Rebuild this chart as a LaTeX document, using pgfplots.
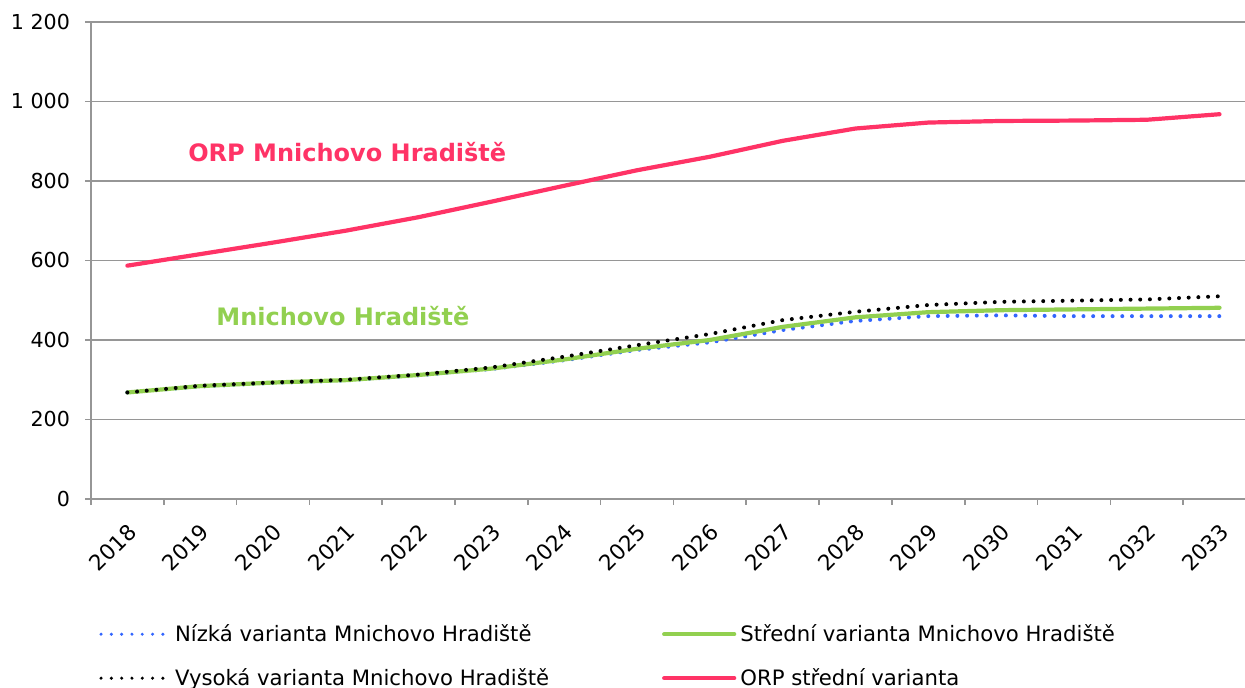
\documentclass[border=0pt]{standalone}
\usepackage{fontspec}
\setmainfont{DejaVu Sans}
\usepackage{pgfplots}
\pgfplotsset{compat=1.18}
\definecolor{cpink}{HTML}{FF3366}
\definecolor{cgreen}{HTML}{92D050}
\definecolor{cblue}{HTML}{3366FF}
\definecolor{cgrid}{HTML}{969696}
\pgfplotsset{
  dotleg/.style={legend image code/.code={\draw[##1, line width=1.7pt, dash pattern=on 0pt off 5.15pt] (0pt,0pt) -- (31.5pt,0pt); \path[draw=none] (0pt,0pt) (35pt,0pt);}},
  solidleg/.style={legend image code/.code={\draw[##1] (0pt,0pt) -- (35pt,0pt);}},
}
\begin{document}
\begin{tikzpicture}
\begin{axis}[
  name=ax,
  at={(0,0)}, anchor=south west,
  scale only axis,
  width=577pt, height=238.5pt,
  xmin=-0.5, xmax=15.35,
  ymin=0, ymax=1200,
  axis lines*=left,
  axis line style={draw=cgrid, line width=0.8pt, -},
  ytick={0,200,400,600,800,1000,1200},
  yticklabels={0,200,400,600,800,1 000,1 200},
  minor ytick={0,200,400,600,800,1000,1200},
  ymajorgrids,
  grid style={draw=cgrid, line width=0.8pt},
  xtick={0,1,...,15},
  xticklabels={2018,2019,2020,2021,2022,2023,2024,2025,2026,2027,2028,2029,2030,2031,2032,2033},
  minor xtick={-0.5,0.5,...,14.5},
  tick align=outside,
  major tick length=0pt,
  minor tick length=3pt,
  tick style={draw=cgrid, line width=0.8pt},
  xticklabel style={rotate=45, anchor=east, font=\fontsize{10.8}{12}\selectfont, yshift=-12pt, xshift=-5pt},
  yticklabel style={font=\fontsize{10.3}{12}\selectfont, xshift=-7pt},
  /pgf/number format/assume math mode=true,
  legend columns=2,
  legend cell align=left,
  legend style={at={(rel axis cs:0.0017,-0.245)}, anchor=north west, draw=none, fill=none,
    font=\fontsize{10.6}{12}\selectfont, row sep=8pt,
    /tikz/every even column/.append style={column sep=54.5pt}},
]
\addplot[cblue, line width=2pt, line cap=round, dash pattern=on 0pt off 4.85pt, dotleg]
  coordinates {(0,268)(1,283)(2,292)(3,298)(4,311)(5,327)(6,349)(7,375)(8,394)(9,425)(10,448)(11,460)(12,462)(13,460)(14,460)(15,460)};
\addlegendentry{Nízká varianta Mnichovo Hradiště}
\addplot[cgreen, line width=2.1pt, line cap=round, solidleg]
  coordinates {(0,268)(1,284)(2,293)(3,299)(4,312)(5,328)(6,351)(7,378)(8,400)(9,433)(10,457)(11,470)(12,475)(13,477)(14,479)(15,481)};
\addlegendentry{Střední varianta Mnichovo Hradiště}
\addplot[black, line width=2pt, line cap=round, dash pattern=on 0pt off 4.85pt, dotleg]
  coordinates {(0,268)(1,285)(2,293)(3,300)(4,313)(5,331)(6,358)(7,387)(8,415)(9,450)(10,471)(11,488)(12,496)(13,499)(14,502)(15,510)};
\addlegendentry{Vysoká varianta Mnichovo Hradiště}
\addplot[cpink, line width=2.1pt, line cap=round, solidleg]
  coordinates {(0,587)(1,616)(2,645)(3,675)(4,709)(5,748)(6,788)(7,827)(8,861)(9,901)(10,932)(11,947)(12,951)(13,952)(14,954)(15,968)};
\addlegendentry{ORP střední varianta}
\node[font=\bfseries\fontsize{12}{14}\selectfont, text=cpink] at (axis cs:3.02,873) {ORP Mnichovo Hradiště};
\node[font=\bfseries\fontsize{12}{14}\selectfont, text=cgreen] at (axis cs:2.96,460) {Mnichovo Hradiště};
\end{axis}
\pgfresetboundingbox
\path[use as bounding box] (-45.5pt,-94.5pt) rectangle (577pt,249.5pt);
\end{tikzpicture}
\end{document}
